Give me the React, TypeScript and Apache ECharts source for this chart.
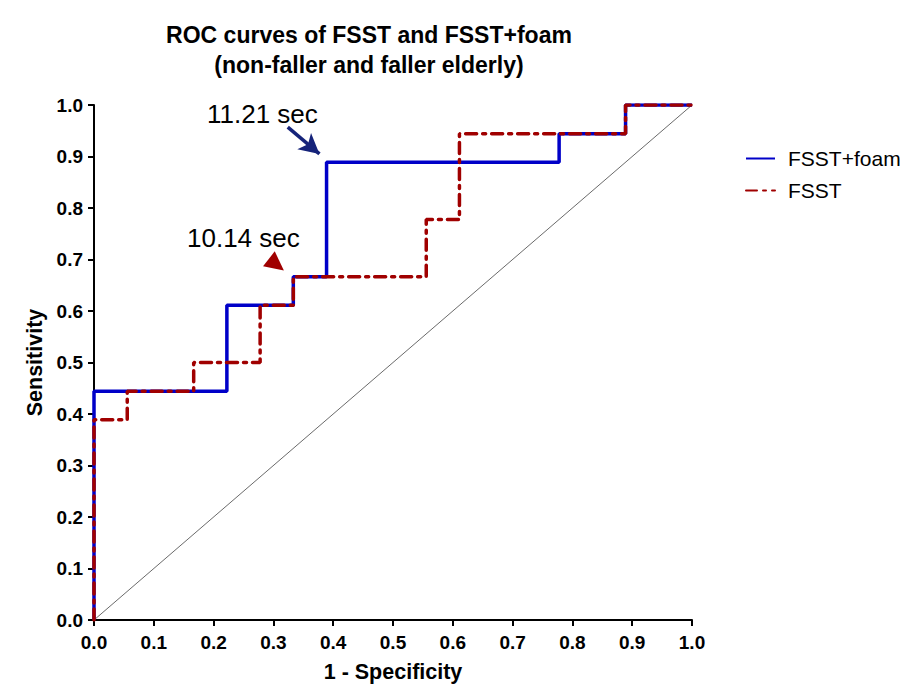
import React, { useEffect, useRef } from "react";
import * as echarts from "echarts";

const foamX = [0, 0, 0.2222, 0.2222, 0.3333, 0.3333, 0.3889, 0.3889, 0.7778, 0.7778, 0.8889, 0.8889, 1];
const foamY = [0, 0.4444, 0.4444, 0.6111, 0.6111, 0.6667, 0.6667, 0.8889, 0.8889, 0.9444, 0.9444, 1, 1];
const fsstX = [0, 0, 0.0556, 0.0556, 0.1667, 0.1667, 0.2778, 0.2778, 0.3333, 0.3333, 0.5556, 0.5556, 0.6111, 0.6111, 0.8889, 0.8889, 1];
const fsstY = [0, 0.3889, 0.3889, 0.4444, 0.4444, 0.5, 0.5, 0.6111, 0.6111, 0.6667, 0.6667, 0.7778, 0.7778, 0.9444, 0.9444, 1, 1];
const diagX = [0, 1];
const diagY = [0, 1];
const seriesNames = ["FSST+foam", "FSST"];
const titleLines = ["ROC curves of FSST and FSST+foam", "(non-faller and faller elderly)"];
const annotations = ["11.21 sec", "10.14 sec"];
const arrowFrom = [0.324, 0.957];
const arrowTo = [0.377, 0.905];
const trianglePos = [0.305, 0.69];

const FONT = 'Arial, "Liberation Sans", sans-serif';

export default function App() {
  const ref = useRef<HTMLDivElement>(null);
  useEffect(() => {
    if (!ref.current) return;
    const chart = echarts.init(ref.current, null, { renderer: "svg" });
    const zip = (xs: number[], ys: number[]) => xs.map((x, i) => [x, ys[i]]);
    chart.setOption({
      animation: false,
      backgroundColor: "#ffffff",
      textStyle: { fontFamily: FONT },
      title: {
        text: titleLines.join("\n"),
        left: 364,
        top: 15,
        textAlign: "center",
        textStyle: { fontFamily: FONT, fontSize: 23, fontWeight: "bold", color: "#000", lineHeight: 30 },
      },
      legend: {
        orient: "vertical",
        left: 740,
        top: 143,
        itemWidth: 29,
        itemHeight: 10,
        itemGap: 11,
        itemStyle: { opacity: 0 },
        textStyle: { fontFamily: FONT, fontSize: 21, color: "#000", padding: [0, 0, 0, 8] },
        data: seriesNames,
      },
      grid: { left: 94, right: 215, top: 105, bottom: 76 },
      xAxis: {
        type: "value",
        min: 0,
        max: 1,
        interval: 0.1,
        name: "1 - Specificity",
        nameLocation: "middle",
        nameGap: 41,
        nameTextStyle: { fontFamily: FONT, fontSize: 21.5, fontWeight: "bold", color: "#000" },
        axisLine: { lineStyle: { color: "#000", width: 2 } },
        axisTick: { length: 6, lineStyle: { color: "#000", width: 2 } },
        axisLabel: { fontFamily: FONT, fontSize: 19, fontWeight: "bold", color: "#000", margin: 13, formatter: (v: number) => v.toFixed(1) },
        splitLine: { show: false },
      },
      yAxis: {
        type: "value",
        min: 0,
        max: 1,
        interval: 0.1,
        name: "Sensitivity",
        nameLocation: "middle",
        nameGap: 47,
        nameTextStyle: { fontFamily: FONT, fontSize: 21.5, fontWeight: "bold", color: "#000" },
        axisLine: { lineStyle: { color: "#000", width: 2 } },
        axisTick: { length: 6, lineStyle: { color: "#000", width: 2 } },
        axisLabel: { fontFamily: FONT, fontSize: 19, fontWeight: "bold", color: "#000", margin: 11, formatter: (v: number) => v.toFixed(1) },
        splitLine: { show: false },
      },
      series: [
        {
          name: "diag",
          type: "line",
          data: zip(diagX, diagY),
          symbol: "none",
          lineStyle: { color: "#444", width: 0.8 },
          silent: true,
          z: 1,
          markLine: {
            silent: true,
            symbol: ["none", "arrow"],
            symbolSize: [16, 20],
            lineStyle: { color: "#15237a", width: 3.5, type: "solid" },
            itemStyle: { color: "#15237a" },
            label: { show: false },
            data: [[{ coord: arrowFrom }, { coord: arrowTo }]],
          },
          markPoint: {
            silent: true,
            symbol: "triangle",
            symbolSize: [19, 19],
            symbolRotate: -128,
            itemStyle: { color: "#a00000" },
            label: { show: false },
            data: [{ coord: trianglePos }],
          },
        },
        {
          name: seriesNames[0],
          type: "line",
          data: zip(foamX, foamY),
          symbol: "none",
          color: "#0000c8",
          lineStyle: { color: "#0000c8", width: 3.5 },
          z: 2,
        },
        {
          name: seriesNames[1],
          type: "line",
          data: zip(fsstX, fsstY),
          symbol: "none",
          color: "#a00000",
          lineStyle: { color: "#a00000", width: 3.5, type: [11, 6, 3, 6], cap: "round" },
          z: 3,
        },
      ],
      graphic: [
        {
          type: "text",
          left: 207,
          top: 101,
          style: { text: annotations[0], fontFamily: FONT, fontSize: 26, fill: "#000" },
        },
        {
          type: "text",
          left: 187,
          top: 225,
          style: { text: annotations[1], fontFamily: FONT, fontSize: 26, fill: "#000" },
        },
      ],
    });
    return () => chart.dispose();
  }, []);
  return <div ref={ref} style={{ position: "fixed", left: 0, top: 0, width: 907, height: 696 }} />;
}
